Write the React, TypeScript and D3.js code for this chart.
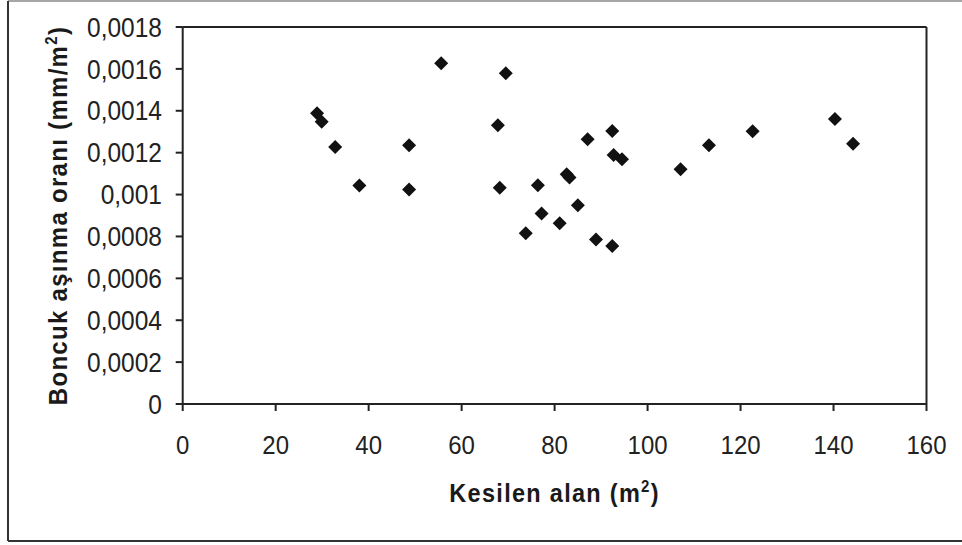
import React from "react";
import * as d3 from "d3";

const xValues = [28.9, 29.9, 32.8, 38.0, 48.7, 48.7, 55.6, 67.8, 68.2, 69.5, 73.8, 76.4, 77.2, 81.1, 82.6, 83.2, 85.0, 87.1, 88.9, 92.4, 92.4, 92.7, 94.5, 107.1, 113.2, 122.6, 140.3, 144.2];
const yValues = [0.001388, 0.001348, 0.001227, 0.001043, 0.001235, 0.001024, 0.001627, 0.001331, 0.001033, 0.001579, 0.000815, 0.001044, 0.00091, 0.000863, 0.001097, 0.001082, 0.000949, 0.001264, 0.000786, 0.001303, 0.000754, 0.001189, 0.001168, 0.001121, 0.001235, 0.001302, 0.001361, 0.001243];
const xTicks = [0, 20, 40, 60, 80, 100, 120, 140, 160];
const yTicks = [0, 0.0002, 0.0004, 0.0006, 0.0008, 0.001, 0.0012, 0.0014, 0.0016, 0.0018];
const yTickLabels = ["0", "0,0002", "0,0004", "0,0006", "0,0008", "0,001", "0,0012", "0,0014", "0,0016", "0,0018"];

const W = 962;
const H = 545;
const left = 182.7;
const right = 926.5;
const top = 27;
const bottom = 404;
const SY = 1.1;

export default function App() {
  const x = d3.scaleLinear().domain([0, 160]).range([left, right]);
  const y = d3.scaleLinear().domain([0, 0.0018]).range([bottom, top]);
  const font = "Arial, 'Liberation Sans', Helvetica, sans-serif";
  const s = 7;
  const diamond = (cx: number, cy: number) =>
    `M${cx},${cy - s}L${cx + s},${cy}L${cx},${cy + s}L${cx - s},${cy}Z`;

  return (
    <svg
      width={W}
      height={H}
      style={{ position: "absolute", left: 0, top: 0, background: "#fff" }}
      fontFamily={font}
    >
      <rect x={0} y={0} width={W} height={H} fill="#fff" />
      {/* outer frame */}
      <line x1={8} y1={1} x2={W} y2={1} stroke="#888" strokeWidth={1.5} />
      <line x1={8} y1={1} x2={8} y2={541} stroke="#333" strokeWidth={2} />
      <line x1={8} y1={541} x2={W} y2={541} stroke="#333" strokeWidth={2} />

      {/* plot border top/right */}
      <line x1={left} y1={top} x2={right} y2={top} stroke="#222" strokeWidth={2} />
      <line x1={right} y1={top} x2={right} y2={bottom} stroke="#222" strokeWidth={2} />

      {/* axes */}
      <line x1={left} y1={top} x2={left} y2={bottom} stroke="#222" strokeWidth={2} />
      <line x1={left} y1={bottom} x2={right} y2={bottom} stroke="#222" strokeWidth={2} />

      {yTicks.map((t, i) => (
        <g key={"y" + i}>
          <line x1={left - 7} x2={left} y1={y(t)} y2={y(t)} stroke="#222" strokeWidth={2} />
          <text
            transform={`translate(162, ${y(t)}) scale(1, ${SY})`}
            dy="0.36em"
            textAnchor="end"
            fontSize={24.5}
            fill="#222"
          >
            {yTickLabels[i]}
          </text>
        </g>
      ))}

      {xTicks.map((t, i) => (
        <g key={"x" + i}>
          <line x1={x(t)} x2={x(t)} y1={bottom} y2={bottom + 7} stroke="#222" strokeWidth={2} />
          <text
            transform={`translate(${x(t)}, 454) scale(1, ${SY})`}
            textAnchor="middle"
            fontSize={24}
            fill="#222"
          >
            {t}
          </text>
        </g>
      ))}

      {/* axis titles */}
      <text
        transform={`translate(${(left + right) / 2}, 501.5) scale(1, ${SY})`}
        textAnchor="middle"
        fontSize={23.5}
        fontWeight="bold"
        letterSpacing={1.3}
        fill="#1a1a1a"
      >
        Kesilen alan (m<tspan dy={-9} fontSize={15}>2</tspan>
        <tspan dy={9}>)</tspan>
      </text>
      <text
        transform={`translate(66.5, ${(top + bottom) / 2}) rotate(-90) scale(1, ${SY})`}
        textAnchor="middle"
        fontSize={24}
        fontWeight="bold"
        letterSpacing={1.3}
        fill="#1a1a1a"
      >
        Boncuk aşınma oranı (mm/m<tspan dy={-9} fontSize={15}>2</tspan>
        <tspan dy={9}>)</tspan>
      </text>

      {/* points */}
      {xValues.map((v, i) => (
        <path key={"p" + i} d={diamond(x(v), y(yValues[i]))} fill="#111" />
      ))}
    </svg>
  );
}
